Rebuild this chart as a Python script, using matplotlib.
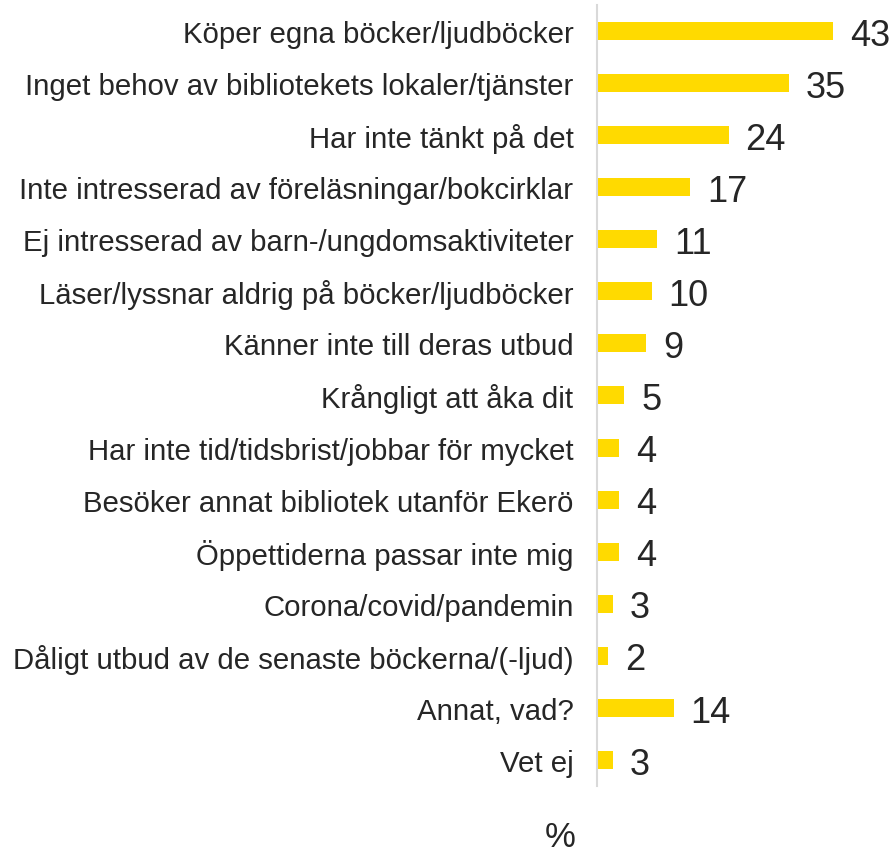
import matplotlib.pyplot as plt
from matplotlib import font_manager

# pick the regular (not narrow) Liberation Sans file explicitly
font_path = None
for f in font_manager.fontManager.ttflist:
    if "LiberationSans-Regular" in f.fname:
        font_path = f.fname
        break
if font_path:
    family = font_manager.FontProperties(fname=font_path).get_name()
    plt.rcParams["font.family"] = [family, "DejaVu Sans"]
else:
    plt.rcParams["font.family"] = ["Liberation Sans", "DejaVu Sans"]

categories = [
    "Köper egna böcker/ljudböcker",
    "Inget behov av bibliotekets lokaler/tjänster",
    "Har inte tänkt på det",
    "Inte intresserad av föreläsningar/bokcirklar",
    "Ej intresserad av barn-/ungdomsaktiviteter",
    "Läser/lyssnar aldrig på böcker/ljudböcker",
    "Känner inte till deras utbud",
    "Krångligt att åka dit",
    "Har inte tid/tidsbrist/jobbar för mycket",
    "Besöker annat bibliotek utanför Ekerö",
    "Öppettiderna passar inte mig",
    "Corona/covid/pandemin",
    "Dåligt utbud av de senaste böckerna/(-ljud)",
    "Annat, vad?",
    "Vet ej",
]
values = [43, 35, 24, 17, 11, 10, 9, 5, 4, 4, 4, 3, 2, 14, 3]

BAR_COLOR = "#FFDA00"
TEXT_COLOR = "#262626"

fig = plt.figure(figsize=(8.94, 8.54), dpi=100)
ax = fig.add_axes([0.6678, 0.0785, 0.3322, 0.9145])

y = list(range(len(categories)))
bars = ax.barh(y, values, height=0.345, color=BAR_COLOR)

ax.set_ylim(len(categories) - 0.5, -0.5)
ax.set_xlim(0, 54.1)

ax.set_yticks(y)
ax.set_yticklabels(categories, fontsize=21.2, color=TEXT_COLOR)
ax.tick_params(axis="y", length=0, pad=17)
ax.set_xticks([])

for spine in ["top", "right", "bottom"]:
    ax.spines[spine].set_visible(False)
ax.spines["left"].set_color("#D9D9D9")
ax.spines["left"].set_linewidth(1.5)

for bar, v in zip(bars, values):
    ax.annotate(
        str(v),
        xy=(bar.get_width(), bar.get_y() + bar.get_height() / 2),
        xytext=(12, -3),
        textcoords="offset points",
        va="center",
        ha="left",
        fontsize=26,
        color=TEXT_COLOR,
    )

fig.text(560 / 894, 1 - 838 / 854, "%", ha="center", va="center",
         fontsize=25, color=TEXT_COLOR)

fig.savefig("out.png", dpi=100)
